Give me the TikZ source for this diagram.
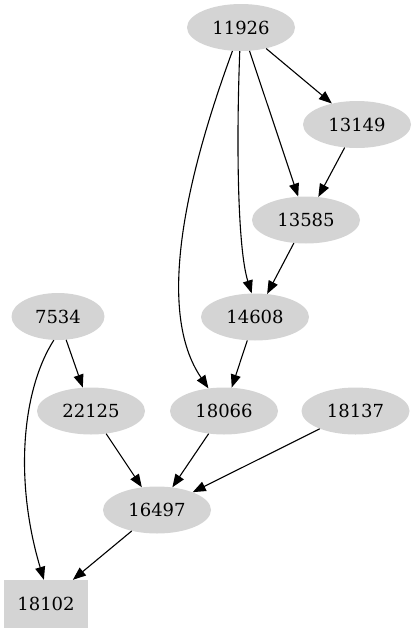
\documentclass[tikz,border=0pt]{standalone}
\usepackage{fontspec}
\setmainfont{DejaVu Serif}
\usetikzlibrary{arrows.meta,shapes.geometric}
\tikzset{
  gnode/.style={ellipse, fill=black!17, draw=none, minimum width=108pt, minimum height=47pt, inner sep=0pt, font=\fontsize{18}{20}\selectfont},
  gbox/.style={rectangle, fill=black!17, draw=none, minimum width=84pt, minimum height=48pt, inner sep=0pt, font=\fontsize{18}{20}\selectfont},
  edge/.style={draw=black, line width=1.1pt, -{Triangle[length=13pt,width=10pt]}}
}
\begin{document}
\begin{tikzpicture}[x=1pt,y=-1pt]
\useasboundingbox (0,0) rectangle (416,635);
\node[gnode] (n11926) at (241,27.5) {11926};
\node[gnode] (n13149) at (357,124.5) {13149};
\node[gnode] (n13585) at (306,220) {13585};
\node[gnode] (n14608) at (255,317) {14608};
\node[gnode, minimum width=93pt] (n7534) at (58,316.5) {7534};
\node[gnode] (n22125) at (91,411) {22125};
\node[gnode] (n18066) at (224,411) {18066};
\node[gnode] (n18137) at (355.5,411) {18137};
\node[gnode] (n16497) at (157,510) {16497};
\node[gbox] (n18102) at (46,604) {18102};

\draw[edge] (n11926) -- (n13149);
\draw[edge] (n11926.-70) -- (n13585);
\draw[edge] (n11926.-93) .. controls (236,150) and (238,250) .. (n14608.98);
\draw[edge] (n11926.-110) .. controls (185,180) and (156,312) .. (n18066);
\draw[edge] (n13149) -- (n13585);
\draw[edge] (n13585) -- (n14608);
\draw[edge] (n14608) -- (n18066);
\draw[edge] (n7534) -- (n22125);
\draw[edge] (n7534.-100) .. controls (22,390) and (14,480) .. (n18102.95);
\draw[edge] (n22125) -- (n16497);
\draw[edge] (n18066) -- (n16497);
\draw[edge] (n18137) -- (n16497);
\draw[edge] (n16497) -- (n18102.42);
\end{tikzpicture}
\end{document}
